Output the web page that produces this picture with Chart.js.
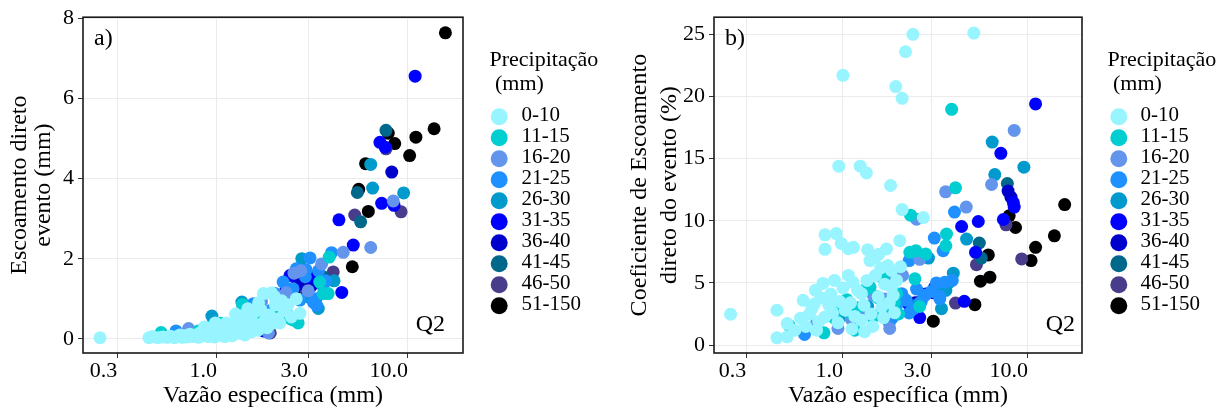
<!DOCTYPE html>
<html><head><meta charset="utf-8">
<script src="https://cdn.jsdelivr.net/npm/chart.js@4.4.0/dist/chart.umd.min.js"></script>
<style>
html,body{margin:0;padding:0;background:#fff;}
#wrap{position:relative;width:1229px;height:410px;overflow:hidden;}
.pane{position:absolute;top:0;height:410px;}
#pa{left:0;width:615px;} #pb{left:615px;width:614px;}
canvas{display:block;}
</style></head><body>
<div id="wrap"><div class="pane" id="pa"><canvas id="ca" width="615" height="410"></canvas></div><div class="pane" id="pb"><canvas id="cb" width="614" height="410"></canvas></div></div>
<script>
// ---- categories / legend ----
const groups = ['0-10','11-15','16-20','21-25','26-30','31-35','36-40','41-45','46-50','51-150'];
const palette = ['#98F5FF','#00CED1','#6495ED','#1E90FF','#009ACD','#0000FF','#0000CD','#00688B','#483D8B','#000000'];
const legendTitle = ['Precipitação',' (mm)'];
const xTicks = [0.3, 1, 3, 10];
const yTicksA = [0, 2, 4, 6, 8];
const yTicksB = [0, 5, 10, 15, 20, 25];

// ---- panel a: [vazão específica, escoamento direto] ----
const a_0_10 = [[0.244,0.03],[0.44,0.03],[0.46,0.06],[0.49,0.03],[0.52,0.05],[0.55,0.04],[0.57,0.07],[0.6,0.03],[0.62,0.06],[0.64,0.1],[0.66,0.04],[0.68,0.08],[0.7,0.05],[0.72,0.12],[0.75,0.06],[0.77,0.1],[0.8,0.04],[0.82,0.16],[0.84,0.08],[0.87,0.22],[0.9,0.06],[0.92,0.12],[0.95,0.28],[0.97,0.05],[1.0,0.18],[1.02,0.34],[1.05,0.1],[1.08,0.24],[1.1,0.06],[1.12,0.4],[1.15,0.16],[1.18,0.3],[1.2,0.08],[1.24,0.22],[1.27,0.45],[1.3,0.14],[1.33,0.35],[1.36,0.58],[1.4,0.1],[1.44,0.28],[1.48,0.5],[1.52,0.18],[1.56,0.66],[1.6,0.36],[1.64,0.22],[1.7,0.72],[1.75,1.13],[1.78,0.46],[1.83,0.28],[1.88,0.6],[1.93,1.15],[1.97,0.4],[2.02,0.85],[2.08,0.5],[2.13,0.4],[2.18,0.95],[2.25,0.7],[2.35,0.85],[2.45,0.55],[2.6,1.0],[2.72,0.64],[2.0,1.05],[1.65,0.9],[1.45,0.75],[1.25,0.62],[0.98,0.4],[0.86,0.3]];
const a_11_15 = [[0.51,0.16],[0.91,0.26],[0.92,0.3],[1.04,0.39],[1.17,0.18],[1.46,0.24],[1.36,0.86],[1.62,0.5],[2.36,0.59],[2.41,0.51],[2.51,0.47],[2.66,0.4],[3.6,1.13],[3.82,1.13],[3.87,2.04],[2.0,0.55],[1.3,0.55],[0.8,0.2],[1.8,0.3],[3.45,1.42],[2.2,0.75],[1.1,0.12]];
const a_16_20 = [[0.71,0.26],[1.71,0.92],[2.53,1.64],[3.53,1.87],[4.58,2.16],[6.38,2.28],[8.38,3.44],[2.12,1.05],[1.55,0.5],[2.3,1.15],[1.86,0.15],[3.0,1.2],[2.75,1.7],[1.25,0.3]];
const a_21_25 = [[0.61,0.2],[1.55,0.88],[1.93,0.72],[2.01,1.13],[2.22,1.42],[2.72,0.97],[2.93,1.72],[3.07,2.02],[3.19,0.92],[3.32,0.84],[3.98,2.15],[2.5,1.25],[3.4,1.7],[2.9,1.55],[1.65,0.35],[2.05,0.65],[3.7,1.45],[1.2,0.15],[2.6,1.75],[3.3,1.0]];
const a_26_30 = [[0.94,0.57],[1.35,0.92],[1.37,0.8],[2.78,2.0],[3.39,0.76],[3.68,1.42],[6.38,4.35],[6.53,3.76],[9.49,3.64],[3.0,1.05],[4.1,1.45],[1.6,0.45],[2.3,0.95],[3.55,1.35]];
const a_31_35 = [[10.9,6.55],[7.13,4.9],[7.28,3.38],[8.45,3.33],[4.35,2.97],[5.17,2.34],[4.5,1.16],[3.13,1.54],[2.41,1.58],[2.24,0.98],[2.36,1.17],[1.75,0.2],[7.6,4.78]];
const a_36_40 = [[8.22,4.16],[3.1,1.31],[2.59,1.31],[2.66,1.36],[2.3,1.25],[3.15,1.45]];
const a_41_45 = [[7.67,5.2],[5.43,3.65],[5.65,2.92],[3.6,1.55],[2.2,0.9]];
const a_46_50 = [[7.67,4.74],[9.2,3.17],[5.26,3.09],[4.06,1.67],[1.9,0.15],[2.9,1.25]];
const a_51_150 = [[15.7,7.63],[13.7,5.24],[11.0,5.03],[10.2,4.57],[7.88,5.13],[8.52,4.87],[6.0,4.37],[5.52,3.73],[6.2,3.18],[5.11,1.8],[2.75,1.3]];

// ---- panel b: [vazão específica, coeficiente de escoamento (%)] ----
const b_0_10 = [[0.247,2.48],[0.44,2.8],[0.44,0.58],[0.5,0.66],[2.39,25.0],[2.18,23.6],[1.0,21.7],[1.93,20.8],[2.09,19.85],[0.95,14.39],[1.24,14.39],[1.34,13.85],[1.81,12.84],[2.09,10.9],[5.1,25.1],[0.8,8.87],[0.8,7.7],[0.92,8.97],[0.98,8.18],[1.07,7.75],[1.14,7.86],[1.36,7.67],[1.49,7.06],[1.4,6.8],[1.72,7.73],[2.03,8.4],[2.72,10.26],[1.75,6.4],[1.07,5.6],[0.9,5.2],[1.13,5.06],[0.78,4.96],[0.71,4.4],[0.61,3.6],[0.68,2.93],[0.5,1.73],[0.59,2.16],[0.8,2.26],[1.26,4.13],[1.26,2.0],[1.31,1.07],[1.83,6.0],[1.83,4.66],[1.87,4.0],[1.62,3.06],[0.55,1.2],[0.63,1.5],[0.66,2.5],[0.7,3.3],[0.74,1.9],[0.76,3.8],[0.84,3.2],[0.86,4.1],[0.88,2.6],[0.96,3.5],[1.0,4.6],[1.03,2.8],[1.1,3.4],[1.16,2.3],[1.2,4.4],[1.3,3.2],[1.35,5.2],[1.42,2.5],[1.5,5.6],[1.55,3.9],[1.6,6.2],[1.66,2.2],[1.68,4.9],[1.78,3.4],[1.95,5.2],[2.05,6.3],[1.45,1.5],[1.12,1.3],[1.9,2.6],[1.56,7.3],[0.72,1.2],[0.94,1.8]];
const b_11_15 = [[3.87,18.97],[0.51,1.6],[0.79,0.98],[1.16,1.2],[1.05,3.65],[0.9,2.16],[1.43,2.32],[1.4,4.66],[1.65,5.33],[1.95,4.13],[2.3,7.46],[2.48,7.59],[2.8,7.33],[2.32,10.45],[4.06,12.65],[3.63,8.93],[3.6,7.99],[2.45,5.33],[1.7,3.0],[1.3,4.4],[2.0,2.5],[1.1,2.6],[1.55,3.8],[2.6,3.1],[1.52,2.4],[1.9,3.4],[1.2,3.0],[0.97,2.9]];
const b_16_20 = [[0.72,1.81],[0.94,1.33],[1.11,2.08],[1.46,4.0],[1.72,5.6],[1.79,1.33],[2.1,5.6],[2.5,10.13],[3.59,12.33],[4.64,11.1],[8.43,17.27],[6.36,12.92],[1.3,2.8],[1.68,3.7],[2.6,6.9]];
const b_21_25 = [[0.62,0.85],[1.78,1.78],[2.08,4.13],[2.28,2.58],[2.28,6.8],[2.81,7.19],[3.12,8.61],[3.48,7.59],[2.77,4.0],[3.34,3.92],[3.56,5.06],[3.34,3.73],[4.01,10.7],[2.2,3.6],[2.5,4.5],[1.95,3.2],[2.4,2.9],[3.0,4.3],[1.85,2.2],[2.65,3.5],[3.9,5.2],[3.2,5.0]];
const b_26_30 = [[0.95,2.13],[1.36,3.12],[3.41,2.93],[3.71,4.98],[3.95,5.78],[4.66,8.53],[6.41,16.33],[9.51,14.31],[6.62,13.72],[2.9,7.0],[2.1,3.9],[3.3,4.6],[2.55,3.3],[3.6,4.4]];
const b_31_35 = [[11.0,19.4],[7.14,15.43],[8.34,11.46],[8.43,11.1],[7.37,10.1],[5.39,9.94],[4.38,9.54],[5.21,7.46],[4.53,3.52],[3.14,4.66],[2.27,3.28],[2.6,2.21],[2.8,4.1]];
const b_36_40 = [[7.81,12.39],[2.63,3.52],[2.45,3.4],[8.1,11.9],[3.1,4.2]];
const b_41_45 = [[7.74,13.0],[5.46,8.21],[5.6,7.0],[3.2,4.4]];
const b_46_50 = [[7.61,9.67],[9.25,6.93],[5.27,6.47],[4.06,3.38]];
const b_51_150 = [[15.8,11.3],[13.9,8.79],[11.0,7.86],[10.4,6.8],[6.11,7.25],[7.92,10.4],[8.57,9.46],[5.54,5.14],[6.23,5.46],[5.17,3.25],[3.08,1.92]];

const seriesA = [a_0_10,a_11_15,a_16_20,a_21_25,a_26_30,a_31_35,a_36_40,a_41_45,a_46_50,a_51_150];
const seriesB = [b_0_10,b_11_15,b_16_20,b_21_25,b_26_30,b_31_35,b_36_40,b_41_45,b_46_50,b_51_150];

const FF = '"Liberation Serif", "DejaVu Serif", serif';

const decor = {
  id: 'decor',
  afterDatasetsDraw(chart, args, o) {
    const {ctx, chartArea: a} = chart;
    ctx.save();
    ctx.strokeStyle = '#1a1a1a'; ctx.lineWidth = 1.6;
    ctx.strokeRect(a.left, a.top, a.right - a.left, a.bottom - a.top);
    ctx.fillStyle = '#000';
    ctx.textBaseline = 'middle';
    ctx.font = '24px ' + FF; ctx.textAlign = 'left';
    ctx.fillText(o.tag, o.tagX, o.tagY);
    ctx.textAlign = 'right';
    ctx.fillText('Q2', o.qX, o.qY);
    // legend
    ctx.textAlign = 'left';
    ctx.font = '22px ' + FF;
    ctx.fillText(legendTitle[0], o.lx, 60);
    ctx.fillText(legendTitle[1], o.lx, 84.5);
    chart.data.datasets.forEach((ds, i) => {
      const y = 116.7 + i * 21.0;
      ctx.beginPath(); ctx.arc(o.kx, y, 8.5, 0, Math.PI * 2);
      ctx.fillStyle = ds.backgroundColor; ctx.fill();
      ctx.fillStyle = '#000'; ctx.font = '21px ' + FF;
      ctx.fillText(ds.label, o.tx, y - 1);
    });
    ctx.restore();
  }
};

function makeChart(id, series, cfg) {
  const datasets = series.map((s, i) => ({
    label: groups[i],
    data: s.map(p => ({x: p[0], y: p[1]})),
    backgroundColor: palette[i],
    borderWidth: 0,
    pointRadius: 6.5,
    pointHoverRadius: 6.5
  }));
  return new Chart(document.getElementById(id), {
    type: 'scatter',
    data: {datasets},
    plugins: [decor],
    options: {
      responsive: false, animation: false, events: [],
      layout: {padding: {left: 0, top: 15, right: cfg.padRight, bottom: 0}},
      plugins: {legend: {display: false}, tooltip: {enabled: false}, decor: cfg.decor},
      scales: {
        x: {
          type: 'logarithmic', min: cfg.xmin, max: cfg.xmax,
          afterBuildTicks: s => { s.ticks = xTicks.map(v => ({value: v})); },
          afterFit: s => { s.height = 57; },
          ticks: {autoSkip: false, maxRotation: 0, padding: 0, align: 'end', color: '#000',
                  font: {family: FF, size: 22}, callback: v => Number(v).toFixed(1)},
          grid: {color: '#EBEBEB', lineWidth: 1, tickColor: '#333', tickLength: 5, drawTicks: true},
          border: {display: false},
          title: {display: true, text: 'Vazão específica (mm)', color: '#000',
                  font: {family: FF, size: 24, lineHeight: 1.2}, padding: {top: 0, bottom: 0}}
        },
        y: {
          type: 'linear', min: cfg.ymin, max: cfg.ymax,
          afterBuildTicks: s => { s.ticks = cfg.yTicks.map(v => ({value: v})); },
          afterFit: s => { s.width = cfg.yWidth; },
          ticks: {padding: 4, color: '#000', font: {family: FF, size: 22}, callback: v => String(v)},
          grid: {color: '#EBEBEB', lineWidth: 1, tickColor: '#333', tickLength: 5, drawTicks: true},
          border: {display: false},
          title: {display: true, text: cfg.yTitle, color: '#000',
                  font: {family: FF, size: 24, lineHeight: cfg.yLH}, padding: {top: cfg.yPad, bottom: 0}}
        }
      }
    }
  });
}

makeChart('ca', seriesA, {
  xmin: 0.1988, xmax: 19.41, ymin: -0.35, ymax: 8.02, yTicks: yTicksA, yWidth: 83, padRight: 152,
  yTitle: ['Escoamento direto', 'evento (mm)'], yLH: 1.0, yPad: 8,
  decor: {tag: 'a)', tagX: 94, tagY: 39, qX: 445, qY: 325, lx: 489.5, kx: 499.2, tx: 521.5}
});
makeChart('cb', seriesB, {
  xmin: 0.201, xmax: 19.6, ymin: -0.64, ymax: 26.38, yTicks: yTicksB, yWidth: 99, padRight: 147,
  yTitle: ['Coeficiente de Escoamento', 'direto do evento (%)'], yLH: 1.25, yPad: 9.5,
  decor: {tag: 'b)', tagX: 110, tagY: 39, qX: 460, qY: 325, lx: 492.5, kx: 503.8, tx: 525.5}
});
</script>
</body></html>
